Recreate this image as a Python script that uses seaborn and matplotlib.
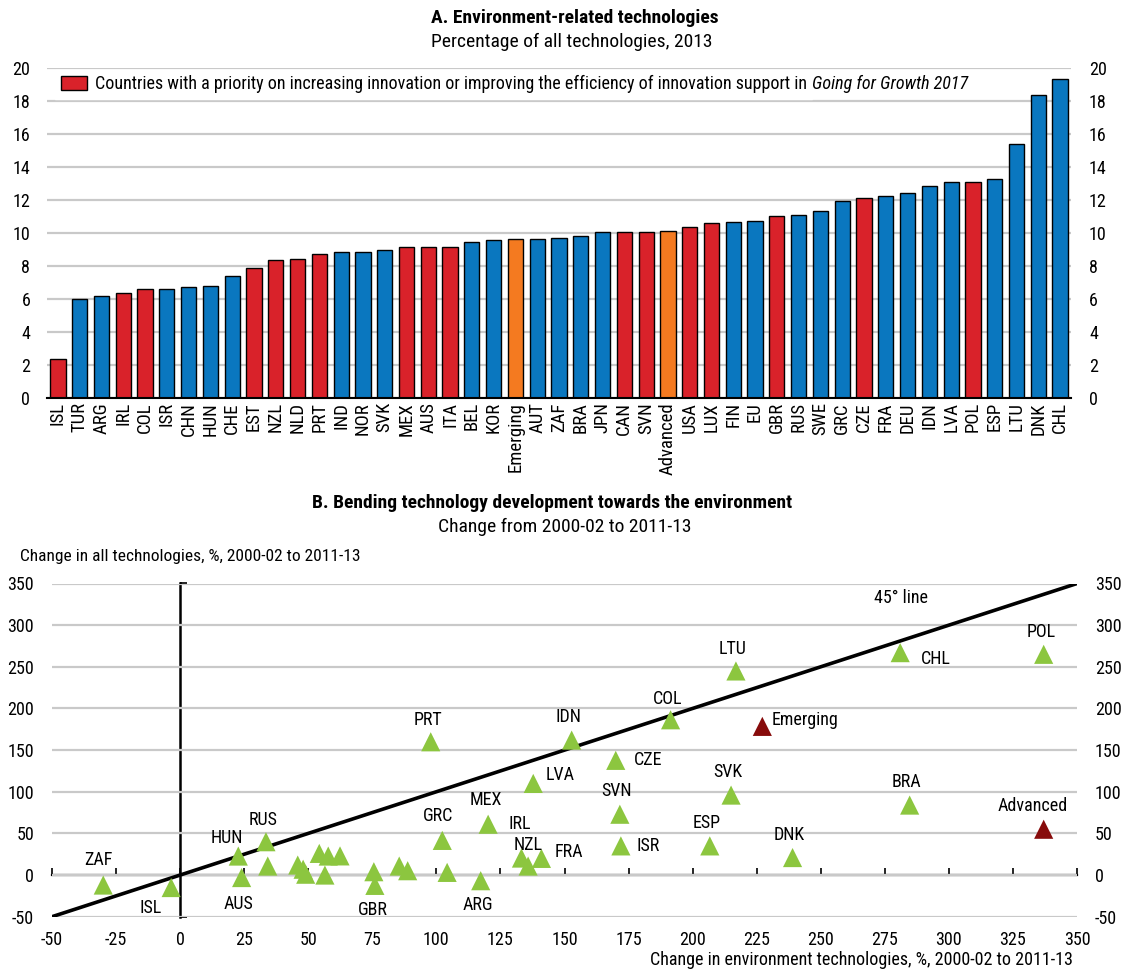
import matplotlib
matplotlib.use("Agg")
import matplotlib.pyplot as plt
import matplotlib.patches as mpatches
import seaborn as sns
import pandas as pd

# ---------------- Panel A: share of environment-related technologies, 2013 ----------------
countries_a = ["ISL", "TUR", "ARG", "IRL", "COL", "ISR", "CHN", "HUN", "CHE", "EST", "NZL", "NLD",
               "PRT", "IND", "NOR", "SVK", "MEX", "AUS", "ITA", "BEL", "KOR", "Emerging", "AUT",
               "ZAF", "BRA", "JPN", "CAN", "SVN", "Advanced", "USA", "LUX", "FIN", "EU", "GBR",
               "RUS", "SWE", "GRC", "CZE", "FRA", "DEU", "IDN", "LVA", "POL", "ESP", "LTU",
               "DNK", "CHL"]
env_share = [2.36, 6.0, 6.18, 6.36, 6.59, 6.63, 6.71, 6.79, 7.37, 7.88, 8.38, 8.42,
             8.73, 8.83, 8.87, 8.97, 9.13, 9.13, 9.15, 9.45, 9.58, 9.66, 9.66,
             9.68, 9.82, 10.04, 10.08, 10.08, 10.12, 10.38, 10.63, 10.69, 10.71, 11.01,
             11.09, 11.35, 11.96, 12.12, 12.24, 12.42, 12.85, 13.07, 13.07, 13.27, 15.37,
             18.36, 19.31]
priority_countries = ["ISL", "IRL", "COL", "EST", "NZL", "NLD", "PRT", "MEX", "AUS", "ITA",
                      "CAN", "SVN", "USA", "LUX", "GBR", "CZE", "POL"]
aggregates = ["Emerging", "Advanced"]

# ---------------- Panel B: change 2000-02 to 2011-13 ----------------
labels_b = ["ZAF", "ISL", "HUN", "RUS", "AUS", "", "", "", "", "", "", "", "",
            "", "GBR", "", "", "PRT", "GRC", "", "ARG", "MEX", "IRL", "NZL", "FRA",
            "LVA", "IDN", "CZE", "SVN", "ISR", "COL", "ESP", "SVK", "LTU", "Emerging",
            "DNK", "CHL", "BRA", "POL", "Advanced"]
env_change = [-30, -3.5, 22.7, 33.5, 24, 34.2, 45.9, 48, 49, 54.3, 57.8, 62.4, 56.5,
              75.6, 76, 85.5, 88.8, 97.8, 102.3, 104.2, 117.3, 120.2, 133.2, 135.8, 141,
              137.8, 152.8, 170, 171.6, 172, 191.4, 206.7, 215, 216.9, 227.2,
              239, 281, 284.7, 337, 337]
all_change = [-12, -15, 22.8, 40, -3, 10.8, 12, 7, 1, 26, 22.8, 23, 0,
              4, -12.4, 10.8, 5.2, 160, 41.6, 3.2, -6.8, 61, 20.4, 10.8, 20,
              110, 162, 137.7, 73, 35, 186.4, 35, 96, 245, 178.5,
              21, 267, 84, 265, 55]

BLUE = "#0a77bf"
RED = "#d9222a"
ORANGE = "#f47a20"
GREEN = "#8cc63f"
DARKRED = "#870b0b"
GRID = "#c9c9c9"

sns.set_theme(style="white")
plt.rcParams["font.family"] = ["Liberation Sans Narrow", "Roboto Condensed",
                               "DejaVu Sans Condensed", "Liberation Sans"]
plt.rcParams["font.size"] = 13
plt.rcParams["axes.unicode_minus"] = False
plt.rcParams["text.color"] = "black"
plt.rcParams["xtick.color"] = "black"
plt.rcParams["ytick.color"] = "black"

W, H = 1124, 974
FS = 13       # tick labels and annotations
TFS = 14      # panel titles
fig = plt.figure(figsize=(W / 100, H / 100), dpi=100)
fig.patch.set_facecolor("white")

# ---------------- Panel A ----------------
axA = fig.add_axes([47 / W, 1 - 398 / H, (1071 - 47) / W, 330 / H])
df_a = pd.DataFrame({"country": countries_a, "value": env_share})
df_a["group"] = ["agg" if c in aggregates else ("prio" if c in priority_countries else "other")
                 for c in countries_a]
sns.barplot(data=df_a, x="country", y="value", hue="group", order=countries_a,
            palette={"other": BLUE, "prio": RED, "agg": ORANGE}, dodge=False, width=0.7,
            edgecolor="black", linewidth=1, saturation=1, legend=False, ax=axA, zorder=3)
axA.set_xlim(-0.5, len(countries_a) - 0.5)
axA.set_ylim(0, 20)
axA.set_yticks(range(0, 21, 2))
axA.set_xlabel("")
axA.set_ylabel("")
axA.yaxis.grid(True, color=GRID, linewidth=1.6)
axA.set_axisbelow(True)
for s in ["top", "left", "right"]:
    axA.spines[s].set_visible(False)
axA.spines["bottom"].set_color("black")
axA.spines["bottom"].set_linewidth(1.5)
axA.spines["bottom"].set_zorder(5)
axA.tick_params(axis="x", which="major", length=0, rotation=90, labelsize=13.5, pad=3)
axA.set_xticks([i + 0.5 for i in range(-1, len(countries_a))], minor=True)
axA.tick_params(axis="x", which="minor", direction="in", length=4, width=1.2, color="black")
axA.tick_params(axis="y", length=0, pad=12, labelsize=FS)
secA = axA.secondary_yaxis("right")
secA.set_yticks(range(0, 21, 2))
secA.tick_params(length=0, pad=13, labelsize=FS)
secA.spines["right"].set_visible(False)

handle = mpatches.Patch(facecolor=RED, edgecolor="black", linewidth=1,
                        label="Countries with a priority on increasing innovation or improving "
                              "the efficiency of innovation support in")
leg = axA.legend(handles=[handle], loc="upper left", bbox_to_anchor=(0.008, 0.995),
                 frameon=True, fancybox=False, edgecolor="white", facecolor="white",
                 framealpha=1, fontsize=13, handlelength=1.45, handleheight=0.8,
                 handletextpad=0.45, borderpad=0.3, borderaxespad=0)
legtext = leg.get_texts()[0]
axA.annotate("Going for Growth 2017", xy=(1, 0), xycoords=legtext, xytext=(3.5, 0),
             textcoords="offset points", ha="left", va="bottom", style="italic",
             fontsize=13, zorder=10)

fig.text(575 / W, 1 - 18 / H, "A. Environment-related technologies", ha="center",
         va="center", fontsize=TFS, fontweight="bold")
fig.text(572 / W, 1 - 42 / H, "Percentage of all technologies, 2013", ha="center",
         va="center", fontsize=TFS)

# ---------------- Panel B ----------------
axB = fig.add_axes([52 / W, 1 - 916.7 / H, (1077 - 52) / W, (916.7 - 583.5) / H])
lo, hi = -50, 350
axB.set_xlim(lo, hi)
axB.set_ylim(lo, hi)
axB.set_xticks(range(lo, hi + 1, 25))
axB.set_yticks(range(lo, hi + 1, 50))
axB.yaxis.grid(True, color=GRID, linewidth=1.6)
axB.xaxis.grid(False)
axB.set_axisbelow(True)
for s in axB.spines.values():
    s.set_visible(False)
axB.tick_params(axis="x", length=0, pad=10, labelsize=FS)
axB.tick_params(axis="y", length=0, pad=13, labelsize=FS)
secB = axB.secondary_yaxis("right")
secB.set_yticks(range(lo, hi + 1, 50))
secB.tick_params(length=0, pad=13, labelsize=FS)
secB.spines["right"].set_visible(False)

# zero lines with their ticks
zero_frac = (0 - lo) / (hi - lo)
zx = axB.secondary_xaxis(zero_frac)
zx.set_xticks(range(lo, hi + 1, 25))
zx.tick_params(direction="in", length=5, width=1.2, labelbottom=False)
zx.spines["bottom"].set_linewidth(1.6)
zx.spines["bottom"].set_color("black")
zy = axB.secondary_yaxis(zero_frac)
zy.set_yticks([lo, hi])
zy.tick_params(direction="in", length=5, width=1.2, labelleft=False)
zy.spines["left"].set_linewidth(1.8)
zy.spines["left"].set_color("black")

# 45 degree line
axB.plot([lo, hi], [lo, hi], color="black", linewidth=2.6, zorder=3, solid_capstyle="butt")
axB.text(281.5, 333, "45° line", ha="center", va="center", fontsize=FS)

df_b = pd.DataFrame({"env": env_change, "all": all_change, "label": labels_b})
df_b["kind"] = ["agg" if l in aggregates else "country" for l in labels_b]
sns.scatterplot(data=df_b, x="env", y="all", hue="kind",
                palette={"country": GREEN, "agg": DARKRED}, marker="^", s=190,
                linewidth=0, legend=False, ax=axB, zorder=4)
axB.set_xlabel("")
axB.set_ylabel("")

# label placement: pixel offsets from each marker and horizontal alignment
label_pos = {
    "ZAF": (-5, 25, "center"), "ISL": (-21, -20, "center"), "HUN": (-11, 18, "center"),
    "RUS": (-3, 22, "center"), "AUS": (-3, -26, "center"), "GBR": (-2, -25, "center"),
    "PRT": (-3, 22, "center"), "GRC": (-4, 24, "center"), "ARG": (-3, -24, "center"),
    "MEX": (-2, 24, "center"), "IRL": (-2, 34, "center"), "NZL": (0, 21, "center"),
    "FRA": (13, 6, "left"), "LVA": (12, 8, "left"), "IDN": (-3, 23, "center"),
    "CZE": (18, 0, "left"), "SVN": (-3, 23, "center"), "ISR": (16, 0, "left"),
    "COL": (-3, 21, "center"), "ESP": (-3, 23, "center"), "SVK": (-3, 23, "center"),
    "LTU": (-3, 22, "center"), "Emerging": (9, 6, "left"), "DNK": (-3, 23, "center"),
    "CHL": (21, -6, "left"), "BRA": (-3, 23, "center"), "POL": (-3, 22, "center"),
    "Advanced": (-11, 23, "center"),
}
for xv, yv, lab in zip(env_change, all_change, labels_b):
    if not lab:
        continue
    dx, dy, ha = label_pos[lab]
    axB.annotate(lab, xy=(xv, yv), xytext=(dx, dy), textcoords="offset pixels",
                 ha=ha, va="center", fontsize=FS, zorder=6)

fig.text(552 / W, 1 - 503 / H, "B. Bending technology development towards the environment",
         ha="center", va="center", fontsize=TFS, fontweight="bold")
fig.text(565 / W, 1 - 527 / H, "Change from 2000-02 to 2011-13", ha="center", va="center",
         fontsize=TFS)
fig.text(20 / W, 1 - 557 / H, "Change in all technologies, %, 2000-02 to 2011-13",
         ha="left", va="center", fontsize=12.5)
fig.text(1073 / W, 1 - 960 / H, "Change in environment technologies, %, 2000-02 to 2011-13",
         ha="right", va="center", fontsize=13)

fig.savefig("out.png", dpi=100, facecolor="white")
